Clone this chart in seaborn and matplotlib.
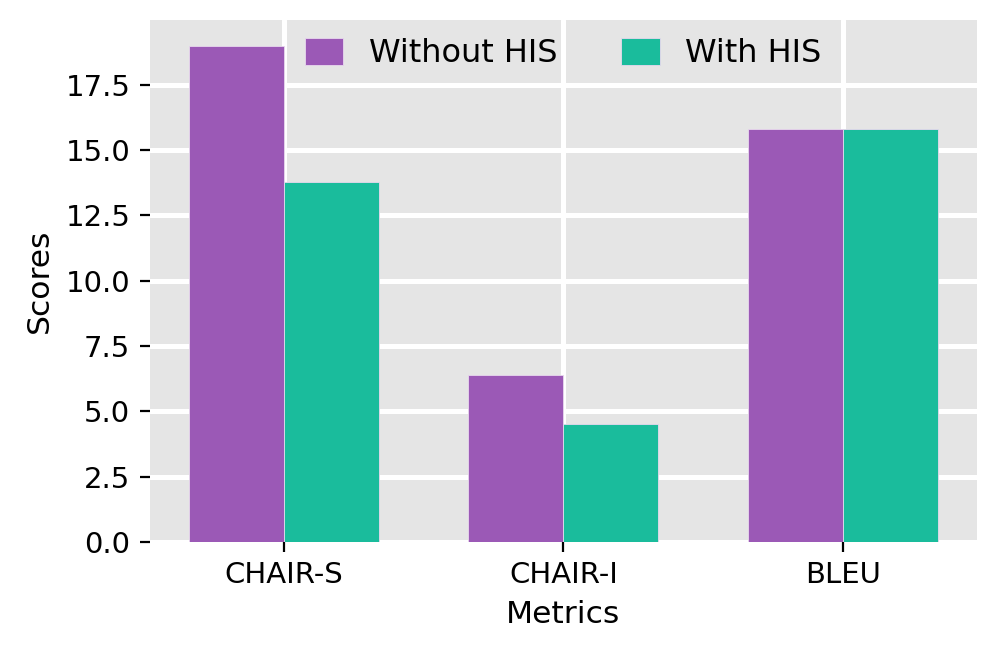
import numpy as np
import pandas as pd
import matplotlib
matplotlib.use("Agg")
import matplotlib.pyplot as plt
import seaborn as sns

# Data
metrics = ["CHAIR-S", "CHAIR-I", "BLEU"]
without_his = [19.0, 6.4, 15.8]
with_his = [13.8, 4.5, 15.8]
groups = ["Without HIS", "With HIS"]
colors = ["#9B59B6", "#1ABC9C"]

df = pd.DataFrame({"Metrics": metrics, "Without HIS": without_his, "With HIS": with_his})
df = df.melt(id_vars="Metrics", var_name="Group", value_name="Scores")

# Style (ggplot-like grey panel)
sns.set_style("darkgrid", rc={
    "axes.facecolor": "#E5E5E5",
    "grid.color": "white",
    "axes.edgecolor": "white",
    "xtick.bottom": True,
    "ytick.left": True,
    "xtick.color": "black",
    "ytick.color": "black",
    "axes.labelcolor": "black",
    "text.color": "black",
})
plt.rcParams["font.family"] = ["DejaVu Sans"]

fig = plt.figure(figsize=(4.99, 3.28), dpi=200)
ax = fig.add_axes([0.150, 0.174, 0.829, 0.796])

sns.barplot(data=df, x="Metrics", y="Scores", hue="Group", hue_order=groups,
            palette=colors, width=0.68, gap=0, edgecolor="#E8D8EE", linewidth=0.3,
            saturation=1, ax=ax)

ax.grid(True, color="white", linewidth=1.8)
ax.set_axisbelow(True)
ax.set_ylim(0, 20)
ax.set_xlim(-0.48, 2.48)
ax.set_yticks(np.arange(0, 17.6, 2.5))
for s in ax.spines.values():
    s.set_visible(False)
ax.tick_params(axis="both", labelsize=10.5, length=3.5, width=0.8, color="black")
ax.set_xlabel("Metrics", fontsize=11.3)
ax.set_ylabel("Scores", fontsize=11.3)

sns.move_legend(ax, "upper center", bbox_to_anchor=(0.5, 1.02), ncol=2, title=None,
                frameon=False, fontsize=11.5, handlelength=1.2, handleheight=0.9)

fig.savefig("out.png", dpi=200)
